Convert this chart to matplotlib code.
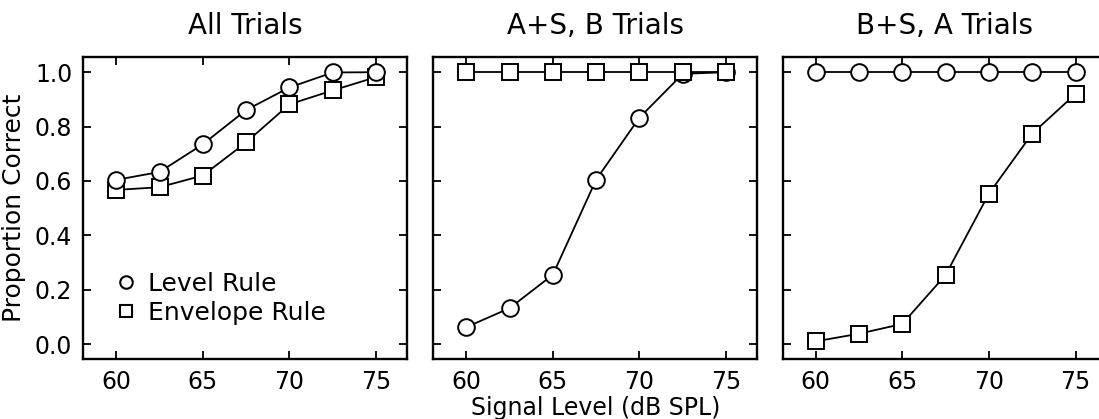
import matplotlib
matplotlib.use("Agg")
import matplotlib.pyplot as plt
from matplotlib.lines import Line2D

# signal levels (dB SPL)
levels = [60, 62.5, 65, 67.5, 70, 72.5, 75]

# proportion correct
all_level = [0.604, 0.633, 0.735, 0.861, 0.944, 0.999, 1.0]
all_env = [0.567, 0.577, 0.620, 0.742, 0.882, 0.933, 0.982]

asb_level = [0.062, 0.132, 0.255, 0.605, 0.833, 0.994, 1.0]
asb_env = [1.0, 1.0, 1.0, 1.0, 1.0, 1.0, 1.0]

bsa_level = [1.0, 1.0, 1.0, 1.0, 1.0, 1.0, 1.0]
bsa_env = [0.010, 0.038, 0.074, 0.254, 0.553, 0.774, 0.920]

titles = ["All Trials", "A+S, B Trials", "B+S, A Trials"]
xticks = [60, 65, 70, 75]
yticks = [0.0, 0.2, 0.4, 0.6, 0.8, 1.0]

plt.rcParams['font.family'] = ['DejaVu Sans']

fig = plt.figure(figsize=(10.99, 4.19), dpi=100)

lefts = [83.3, 433.3, 782.7]
w = 324 / 1099
bottom = (419 - 359.3) / 419
h = 302.6 / 419

series = [(all_level, all_env), (asb_level, asb_env), (bsa_level, bsa_env)]
axes = []
for i, (lv, ev) in enumerate(series):
    ax = fig.add_axes([lefts[i] / 1099, bottom, w, h])
    ax.plot(levels, ev, color="black", lw=1.3, marker="s", ms=11,
            mfc="white", mec="black", mew=1.4, zorder=3)
    # in the middle panel the squares sit on top of the circles
    ax.plot(levels, lv, color="black", lw=1.3, marker="o", ms=12,
            mfc="white", mec="black", mew=1.4, zorder=3 if i != 1 else 2)
    ax.set_xlim(58.1, 76.8)
    ax.set_ylim(-0.056, 1.057)
    ax.set_xticks(xticks)
    ax.set_yticks(yticks)
    ax.tick_params(direction="in", length=6, width=1.3, top=True, right=True,
                   labelsize=17, pad=8)
    if i == 0:
        ax.set_yticklabels(["%.1f" % t for t in yticks])
        ax.set_ylabel("Proportion Correct", fontsize=18, labelpad=6)
    else:
        ax.set_yticklabels([])
    for s in ax.spines.values():
        s.set_linewidth(1.7)
    ax.set_title(titles[i], fontsize=20, pad=16)
    axes.append(ax)

axes[1].set_xlabel("Signal Level (dB SPL)", fontsize=17, labelpad=1)

handles = [
    Line2D([], [], ls="none", marker="o", ms=9, mfc="white", mec="black", mew=1.5),
    Line2D([], [], ls="none", marker="s", ms=9, mfc="white", mec="black", mew=1.5),
]
axes[0].legend(handles, ["Level Rule", "Envelope Rule"], loc="lower left",
               bbox_to_anchor=(0.07, 0.08), frameon=False, fontsize=18,
               handlelength=0.8, handletextpad=0.5, labelspacing=0.2,
               borderaxespad=0)

fig.savefig("out.png", dpi=100)
